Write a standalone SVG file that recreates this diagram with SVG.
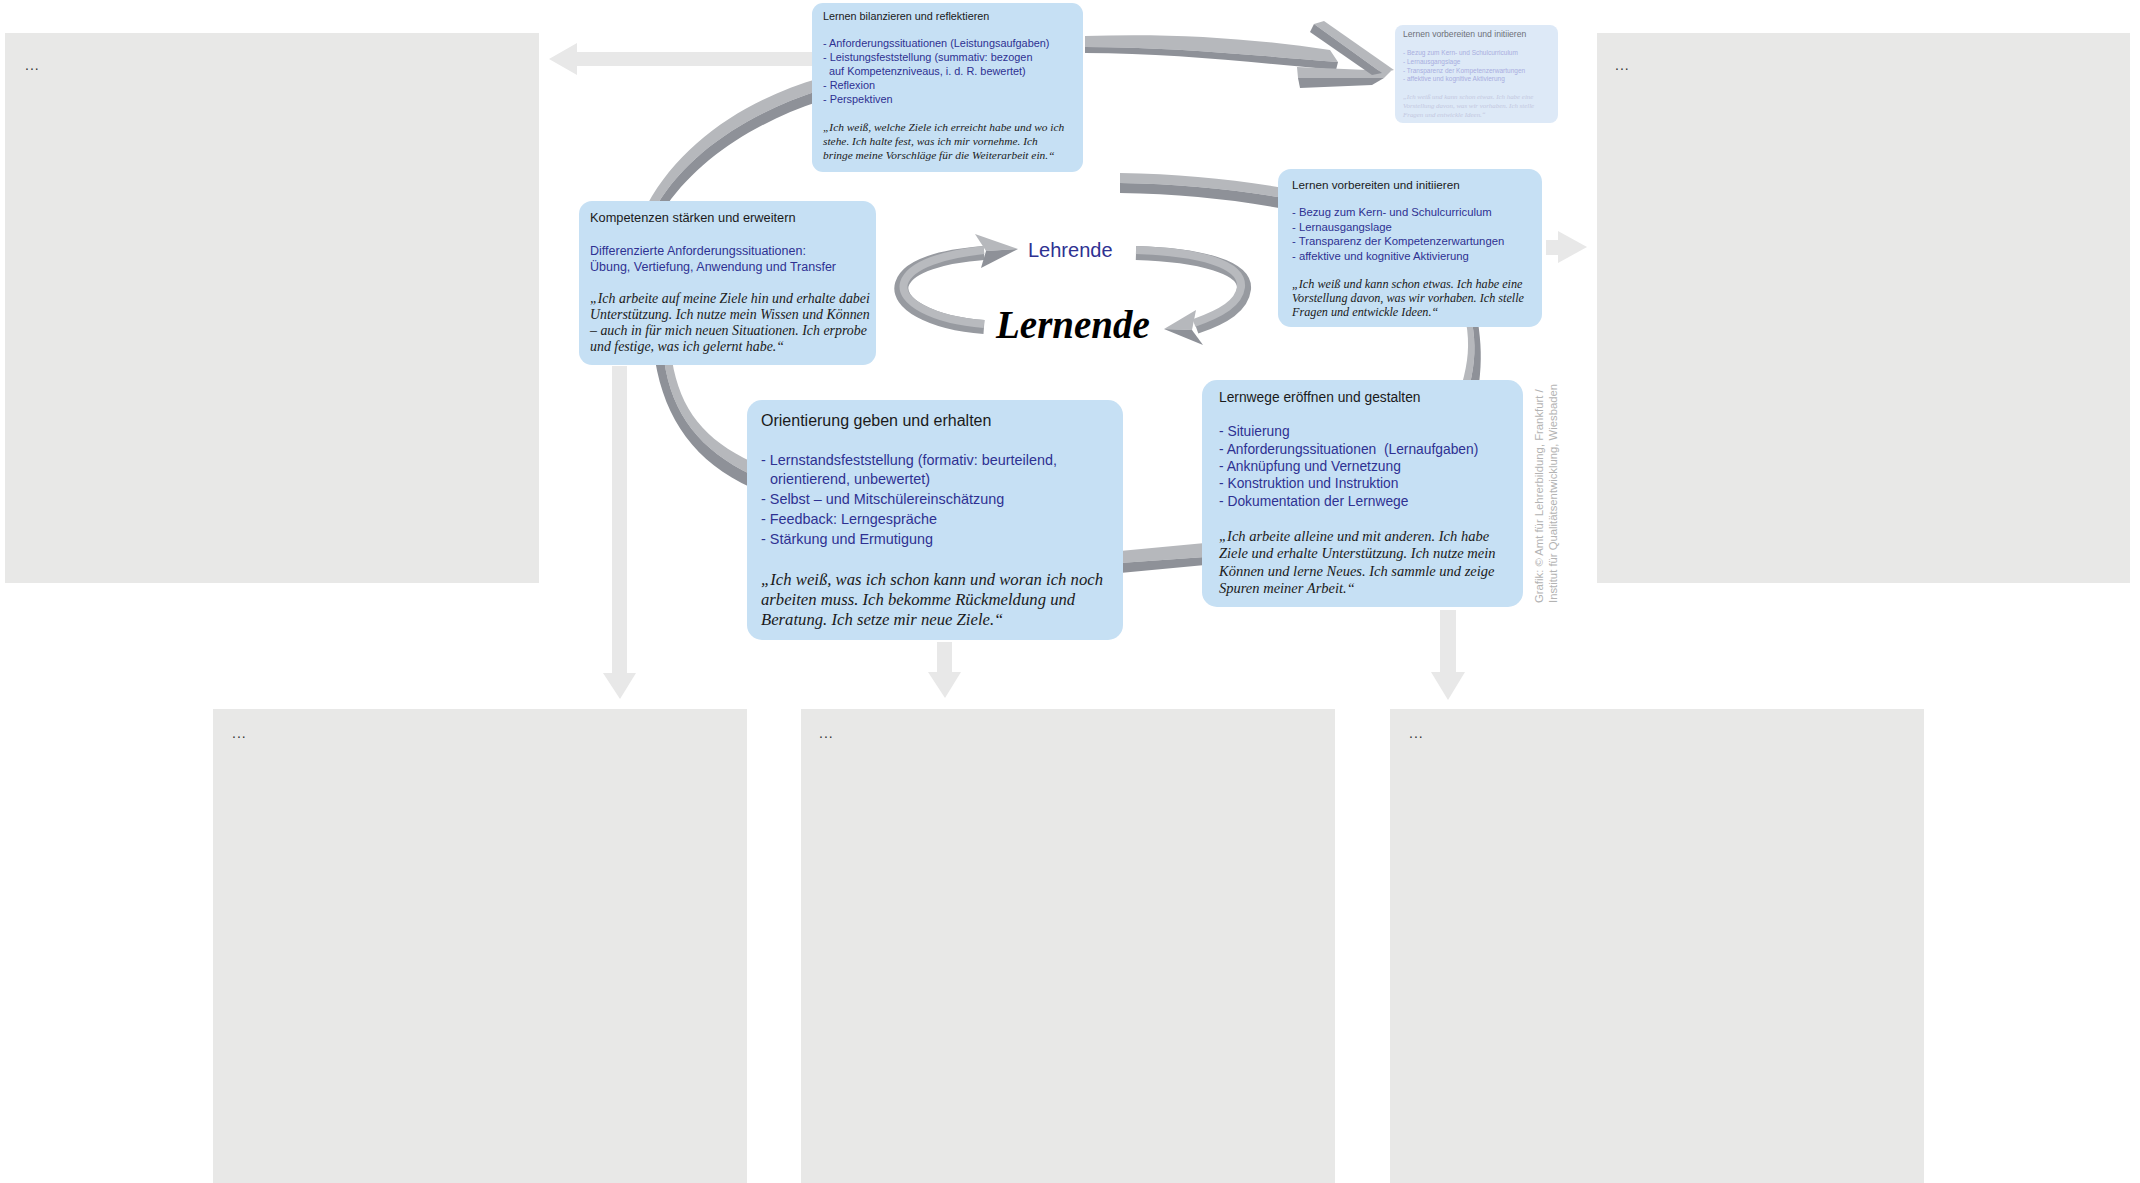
<svg xmlns="http://www.w3.org/2000/svg" width="2140" height="1183" viewBox="0 0 2140 1183">
<style>
.panel{fill:#e8e8e7}
.dots{font-family:"Liberation Sans",Arial,sans-serif;font-size:14px;fill:#333;letter-spacing:1px}
.box{fill:#c6e0f4}
.fbox{fill:#dde9f7}
.t{font-family:"Liberation Sans",Arial,sans-serif;fill:#1a1a1a}
.b{font-family:"Liberation Sans",Arial,sans-serif;fill:#2e3192}
.q{font-family:"Liberation Serif","Times New Roman",serif;font-style:italic;fill:#1a1a1a}
.flat{fill:#e8e8e8}
.lt{fill:#b6b8bc}
.dk{fill:#8e9198}
.pre{white-space:pre}
</style>
<rect width="2140" height="1183" fill="#ffffff"/>
<g id="panels">
<g id="panel-top-left"><rect class="panel" x="5" y="33" width="534" height="550"/><text class="dots" x="25" y="70">...</text></g>
<g id="panel-top-right"><rect class="panel" x="1597" y="33" width="533" height="550"/><text class="dots" x="1615" y="70">...</text></g>
<g id="panel-bottom-left"><rect class="panel" x="213" y="709" width="534" height="474"/><text class="dots" x="232" y="738">...</text></g>
<g id="panel-bottom-mid"><rect class="panel" x="801" y="709" width="534" height="474"/><text class="dots" x="819" y="738">...</text></g>
<g id="panel-bottom-right"><rect class="panel" x="1390" y="709" width="534" height="474"/><text class="dots" x="1409" y="738">...</text></g>
</g>
<g id="connectors">
<!-- flat grey arrows to panels -->
<polygon class="flat" points="814,52 577,52 577,43 549,59 577,75 577,66 814,66"/>
<polygon class="flat" points="1546,240 1558,240 1558,231 1587,247 1558,263 1558,255 1546,255"/>
<polygon class="flat" points="612,366 627,366 627,673 636,673 620,699 603,673 612,673"/>
<polygon class="flat" points="937,642 952,642 952,672 961,672 945,698 928,672 937,672"/>
<polygon class="flat" points="1440,610 1456,610 1456,672 1465,672 1448,700 1431,672 1440,672"/>
<!-- 3D ribbon: box1 -> faded box (top) -->
<path class="lt" d="M1085,36 C1170,33 1250,38 1330,50 L1338,62 C1250,55 1170,47 1085,47 Z"/>
<path class="dk" d="M1085,47 C1170,47 1250,55 1338,62 L1336,70 C1250,62 1170,53 1085,53 Z"/>
<polygon class="lt" points="1297,67 1391,71 1384,78 1298,78"/>
<polygon class="dk" points="1298,78 1384,78 1372,85 1300,88"/>
<polygon class="lt" points="1314,24 1324,21 1394,70 1382,73"/>
<polygon class="dk" points="1310,32 1314,24 1382,73 1372,75"/>
<!-- box1 -> box4 arc -->
<path class="lt" d="M820,78 C750,98 682,140 647,205 L657,205 C690,150 752,112 820,90 Z"/>
<path class="dk" d="M820,90 C752,112 690,150 657,205 L667,205 C700,158 756,122 820,101 Z"/>
<!-- box4 -> box5 arc -->
<path class="lt" d="M672,360 C680,410 705,440 752,462 L752,475 C700,450 672,415 664,360 Z"/>
<path class="dk" d="M664,360 C672,415 700,450 752,475 L752,488 C695,462 665,420 655,360 Z"/>
<!-- box5 -> box6 -->
<polygon class="lt" points="1120,551 1205,543 1205,557 1120,563"/>
<polygon class="dk" points="1120,563 1205,557 1205,565 1120,573"/>
<!-- box3 -> box6 -->
<path class="lt" d="M1466,322 C1470,345 1468,362 1462,384 L1470,384 C1475,362 1476,345 1472,322 Z"/>
<path class="dk" d="M1472,322 C1476,345 1475,362 1470,384 L1479,384 C1482,360 1481,343 1478,322 Z"/>
<!-- box1 -> box3 -->
<path class="lt" d="M1120,173 C1180,174 1230,179 1285,188 L1285,198 C1230,189 1180,184 1120,183 Z"/>
<path class="dk" d="M1120,183 C1180,184 1230,189 1285,198 L1285,209 C1230,199 1180,194 1120,193 Z"/>
<!-- inner loop arrows -->
<path d="M984,327 C930,323 896,303 902,284 C908,265 945,256 984,253" fill="none" stroke="#979aa0" stroke-width="14"/>
<path d="M984,324 C932,320 899,301 904,283 C910,264 946,254 984,250" fill="none" stroke="#b8babe" stroke-width="8"/>
<polygon class="lt" points="975,234 1018,249 986,251"/>
<polygon class="dk" points="986,251 1018,249 981,268"/>
<path d="M1136,253 C1200,255 1246,267 1244,289 C1242,306 1225,317 1196,327" fill="none" stroke="#979aa0" stroke-width="14"/>
<path d="M1136,250 C1200,252 1243,264 1241,287 C1239,303 1222,313 1194,323" fill="none" stroke="#b8babe" stroke-width="8"/>
<polygon class="lt" points="1196,310 1164,329 1192,330"/>
<polygon class="dk" points="1192,330 1164,329 1203,345"/>
</g>
<g id="center-labels">
<text id="lehrende" class="b" x="1028" y="257" font-size="20">Lehrende</text>
<text id="lernende" x="996" y="338" font-family="'Liberation Serif','Times New Roman',serif" font-style="italic" font-weight="bold" font-size="39" fill="#000">Lernende</text>
</g>
<g id="node-bilanzieren">
<rect class="box" x="812" y="3" width="271" height="169" rx="11"/>
<text class="t" x="823" y="20" font-size="10.8">Lernen bilanzieren und reflektieren</text>
<g class="b" font-size="10.9">
<text x="823" y="47">- Anforderungssituationen (Leistungsaufgaben)</text>
<text x="823" y="61">- Leistungsfeststellung (summativ: bezogen</text>
<text x="829" y="75">auf Kompetenzniveaus, i. d. R. bewertet)</text>
<text x="823" y="89">- Reflexion</text>
<text x="823" y="103">- Perspektiven</text>
</g>
<g class="q" font-size="11.4">
<text x="823" y="131">„Ich weiß, welche Ziele ich erreicht habe und wo ich</text>
<text x="823" y="145">stehe. Ich halte fest, was ich mir vornehme. Ich</text>
<text x="823" y="159">bringe meine Vorschläge für die Weiterarbeit ein.“</text>
</g>
</g>
<g id="node-vorbereiten-faded">
<rect class="fbox" x="1395" y="25" width="163" height="98" rx="8"/>
<text x="1403" y="37" font-family="'Liberation Sans',Arial,sans-serif" font-size="8.6" fill="#6d7078">Lernen vorbereiten und initiieren</text>
<g font-family="'Liberation Sans',Arial,sans-serif" font-size="6.5" fill="#a9aee0">
<text x="1403" y="55">- Bezug zum Kern- und Schulcurriculum</text>
<text x="1403" y="64">- Lernausgangslage</text>
<text x="1403" y="73">- Transparenz der Kompetenzerwartungen</text>
<text x="1403" y="81">- affektive und kognitive Aktivierung</text>
</g>
<g font-family="'Liberation Serif',serif" font-style="italic" font-size="6.9" fill="#c3c8df">
<text x="1403" y="99">„Ich weiß und kann schon etwas. Ich habe eine</text>
<text x="1403" y="108">Vorstellung davon, was wir vorhaben. Ich stelle</text>
<text x="1403" y="117">Fragen und entwickle Ideen.“</text>
</g>
</g>
<g id="node-vorbereiten">
<rect class="box" x="1278" y="169" width="264" height="158" rx="13"/>
<text class="t" x="1292" y="189" font-size="11.7">Lernen vorbereiten und initiieren</text>
<g class="b" font-size="11.3">
<text x="1292" y="216">- Bezug zum Kern- und Schulcurriculum</text>
<text x="1292" y="231">- Lernausgangslage</text>
<text x="1292" y="245">- Transparenz der Kompetenzerwartungen</text>
<text x="1292" y="260">- affektive und kognitive Aktivierung</text>
</g>
<g class="q" font-size="12.2">
<text x="1292" y="288">„Ich weiß und kann schon etwas. Ich habe eine</text>
<text x="1292" y="302">Vorstellung davon, was wir vorhaben. Ich stelle</text>
<text x="1292" y="316">Fragen und entwickle Ideen.“</text>
</g>
</g>
<g id="node-kompetenzen">
<rect class="box" x="579" y="201" width="297" height="164" rx="13"/>
<text class="t" x="590" y="222" font-size="12.8">Kompetenzen stärken und erweitern</text>
<g class="b" font-size="12.5">
<text x="590" y="255">Differenzierte Anforderungssituationen:</text>
<text x="590" y="271">Übung, Vertiefung, Anwendung und Transfer</text>
</g>
<g class="q" font-size="13.9">
<text x="590" y="303">„Ich arbeite auf meine Ziele hin und erhalte dabei</text>
<text x="590" y="319">Unterstützung. Ich nutze mein Wissen und Können</text>
<text x="590" y="335">– auch in für mich neuen Situationen. Ich erprobe</text>
<text x="590" y="351">und festige, was ich gelernt habe.“</text>
</g>
</g>
<g id="node-orientierung">
<rect class="box" x="747" y="400" width="376" height="240" rx="15"/>
<text class="t" x="761" y="426" font-size="16">Orientierung geben und erhalten</text>
<g class="b" font-size="14.4">
<text x="761" y="465">- Lernstandsfeststellung (formativ: beurteilend,</text>
<text x="770" y="484">orientierend, unbewertet)</text>
<text x="761" y="504">- Selbst – und Mitschülereinschätzung</text>
<text x="761" y="524">- Feedback: Lerngespräche</text>
<text x="761" y="544">- Stärkung und Ermutigung</text>
</g>
<g class="q" font-size="16.7">
<text x="761" y="585">„Ich weiß, was ich schon kann und woran ich noch</text>
<text x="761" y="605">arbeiten muss. Ich bekomme Rückmeldung und</text>
<text x="761" y="625">Beratung. Ich setze mir neue Ziele.“</text>
</g>
</g>
<g id="node-lernwege">
<rect class="box" x="1202" y="380" width="321" height="227" rx="15"/>
<text class="t" x="1219" y="402" font-size="13.8">Lernwege eröffnen und gestalten</text>
<g class="b" font-size="13.8">
<text x="1219" y="436">- Situierung</text>
<text class="pre" x="1219" y="454">- Anforderungssituationen  (Lernaufgaben)</text>
<text x="1219" y="471">- Anknüpfung und Vernetzung</text>
<text x="1219" y="488">- Konstruktion und Instruktion</text>
<text x="1219" y="506">- Dokumentation der Lernwege</text>
</g>
<g class="q" font-size="14.5">
<text x="1219" y="541">„Ich arbeite alleine und mit anderen. Ich habe</text>
<text x="1219" y="558">Ziele und erhalte Unterstützung. Ich nutze mein</text>
<text x="1219" y="576">Können und lerne Neues. Ich sammle und zeige</text>
<text x="1219" y="593">Spuren meiner Arbeit.“</text>
</g>
</g>
<g id="credit" font-family="'Liberation Sans',Arial,sans-serif" font-size="11.3" fill="#b3b3b3">
<text transform="translate(1543,603) rotate(-90)">Grafik: © Amt für Lehrerbildung, Frankfurt /</text>
<text transform="translate(1557,603) rotate(-90)">Institut für Qualitätsentwicklung, Wiesbaden</text>
</g>
</svg>
